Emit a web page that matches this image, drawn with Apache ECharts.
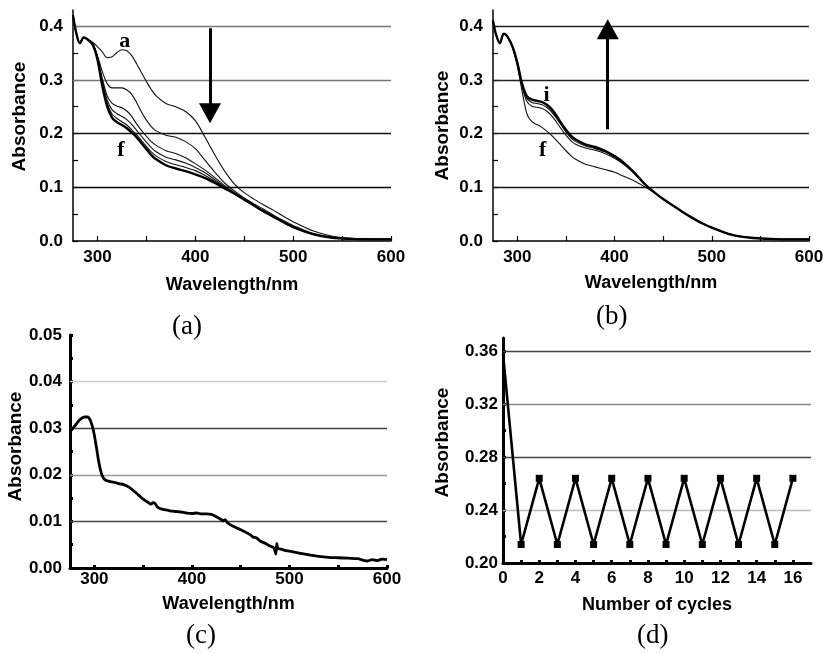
<!DOCTYPE html>
<html><head><meta charset="utf-8">
<script src="https://cdn.jsdelivr.net/npm/echarts@6/dist/echarts.min.js"></script>
<style>html,body{margin:0;padding:0;background:#fff}#c{width:827px;height:654px}</style>
</head><body><div id="c"></div>
<script>
// ---------- data ----------
const wlAB = [275,278,282,286,290,295,300,305,310,315,320,325,330,335,340,345,350,355,360,370,380,390,400,410,420,430,440,450,460,470,480,490,500,520,540,560,580,600];
const curveA_a = [0.42,0.39,0.368,0.379,0.375,0.370,0.362,0.352,0.341,0.343,0.351,0.356,0.354,0.345,0.330,0.313,0.297,0.282,0.270,0.256,0.250,0.241,0.224,0.193,0.160,0.130,0.106,0.090,0.078,0.067,0.057,0.046,0.036,0.019,0.009,0.005,0.004,0.003];
const curveA_b = [0.42,0.39,0.368,0.379,0.375,0.368,0.345,0.315,0.293,0.285,0.285,0.285,0.281,0.273,0.258,0.240,0.225,0.213,0.205,0.197,0.193,0.185,0.172,0.150,0.128,0.108,0.093,0.080,0.069,0.059,0.048,0.038,0.029,0.014,0.007,0.004,0.003,0.003];
const curveA_c = [0.42,0.39,0.368,0.379,0.375,0.368,0.342,0.302,0.270,0.256,0.251,0.248,0.242,0.232,0.218,0.206,0.195,0.185,0.178,0.168,0.163,0.155,0.144,0.132,0.118,0.103,0.090,0.078,0.067,0.056,0.046,0.036,0.027,0.013,0.006,0.004,0.003,0.003];
const curveA_d = [0.42,0.39,0.368,0.379,0.375,0.368,0.341,0.297,0.262,0.244,0.237,0.232,0.226,0.217,0.206,0.195,0.184,0.174,0.166,0.156,0.151,0.145,0.137,0.127,0.114,0.101,0.089,0.077,0.066,0.055,0.045,0.035,0.026,0.013,0.006,0.004,0.003,0.003];
const curveA_e = [0.42,0.39,0.368,0.379,0.375,0.368,0.340,0.292,0.256,0.236,0.228,0.222,0.216,0.207,0.198,0.187,0.176,0.166,0.158,0.148,0.142,0.137,0.131,0.122,0.111,0.100,0.088,0.077,0.066,0.055,0.045,0.035,0.026,0.013,0.006,0.004,0.003,0.003];
const curveA_f = [0.42,0.39,0.368,0.379,0.375,0.366,0.338,0.288,0.250,0.229,0.221,0.216,0.210,0.202,0.193,0.182,0.171,0.160,0.152,0.141,0.135,0.130,0.124,0.117,0.108,0.098,0.088,0.077,0.066,0.055,0.045,0.035,0.026,0.013,0.006,0.004,0.003,0.003];

const curveB_f = [0.41,0.385,0.368,0.386,0.38,0.362,0.326,0.278,0.236,0.222,0.217,0.212,0.205,0.197,0.188,0.178,0.168,0.159,0.152,0.143,0.138,0.133,0.128,0.120,0.112,0.102,0.091,0.078,0.066,0.054,0.043,0.033,0.025,0.012,0.006,0.004,0.003,0.003];
const curveB_g = [0.41,0.385,0.368,0.386,0.38,0.362,0.330,0.287,0.259,0.251,0.249,0.247,0.242,0.234,0.222,0.209,0.197,0.187,0.180,0.173,0.169,0.163,0.154,0.142,0.126,0.107,0.092,0.078,0.066,0.054,0.043,0.033,0.025,0.012,0.006,0.004,0.003,0.003];
const curveB_h = [0.41,0.385,0.368,0.386,0.38,0.362,0.331,0.290,0.265,0.258,0.256,0.254,0.249,0.241,0.229,0.216,0.203,0.192,0.185,0.177,0.172,0.166,0.156,0.144,0.127,0.108,0.092,0.078,0.066,0.054,0.043,0.033,0.025,0.012,0.006,0.004,0.003,0.003];
const curveB_i = [0.41,0.385,0.368,0.386,0.38,0.362,0.332,0.292,0.269,0.263,0.261,0.259,0.254,0.246,0.234,0.220,0.207,0.196,0.189,0.180,0.175,0.168,0.158,0.145,0.128,0.108,0.092,0.078,0.066,0.054,0.043,0.033,0.025,0.012,0.006,0.004,0.003,0.003];

const wlC = [275,280,285,290,293,296,299,302,305,308,311,315,320,325,330,335,340,345,350,355,358,360,362,365,370,375,380,385,390,395,400,405,410,415,420,425,430,432,434,436,440,445,450,455,460,463,466,470,475,480,484,486,487,488,490,495,500,510,520,530,540,550,560,570,575,580,585,590,595,600];
const absC = [0.0292,0.0305,0.0318,0.0324,0.0324,0.0316,0.0295,0.0260,0.0222,0.0198,0.0189,0.0186,0.0184,0.0181,0.0179,0.0174,0.0166,0.0157,0.0148,0.0141,0.0137,0.0140,0.0139,0.0130,0.0126,0.0124,0.0122,0.0121,0.0120,0.0118,0.0117,0.0118,0.0116,0.0116,0.0115,0.0110,0.0104,0.0101,0.0104,0.0098,0.0092,0.0087,0.0082,0.0077,0.0071,0.0066,0.0065,0.0058,0.0053,0.0047,0.0043,0.0030,0.0053,0.0042,0.0041,0.0038,0.0036,0.0032,0.0028,0.0025,0.0023,0.0022,0.0021,0.0020,0.0017,0.0015,0.0018,0.0016,0.0019,0.0018];

const cycles = [0,1,2,3,4,5,6,7,8,9,10,11,12,13,14,15,16];
const absD = [0.358,0.214,0.264,0.214,0.264,0.214,0.264,0.214,0.264,0.214,0.264,0.214,0.264,0.214,0.264,0.214,0.264];

const wlLabels = [300,400,500,600];
const wlTicks = [300,350,400,450,500,550,600];
const abLabels = [0,0.1,0.2,0.3,0.4];
const abTicks = [0,0.05,0.1,0.15,0.2,0.25,0.3,0.35,0.4];
const cLabels = [0,0.01,0.02,0.03,0.04,0.05];
const cTicks = [0,0.005,0.01,0.015,0.02,0.025,0.03,0.035,0.04,0.045,0.05];
const dLabels = [0.20,0.24,0.28,0.32,0.36];
const dTicks = [0.20,0.22,0.24,0.26,0.28,0.30,0.32,0.34,0.36];
const cycLabels = [0,2,4,6,8,10,12,14,16];
const cycTicks = cycles;

// ---------- helpers ----------
const SANS = 'Liberation Sans, Arial, sans-serif';
const SERIF = 'Liberation Serif, Times New Roman, serif';
const zip = (xs, ys) => xs.map((x, i) => [x, ys[i]]);

function xAx(idx, min, max, labels, ticks, name, gap, lw, dec, margin) {
  return {
    type: 'value', gridIndex: idx, min, max,
    name, nameLocation: 'middle', nameGap: gap,
    nameTextStyle: {fontFamily: SANS, fontWeight: 'bold', fontSize: 18, color: '#000'},
    axisLine: {onZero: false, lineStyle: {color: '#000', width: lw}},
    axisTick: {inside: true, length: lw > 2 ? 3 : 5, customValues: ticks, lineStyle: {color: '#000', width: lw > 2 ? 3 : 1.2}},
    axisLabel: {customValues: labels, margin: margin, fontFamily: SANS, fontWeight: 'bold', fontSize: 17, color: '#000',
      formatter: v => dec == null ? String(v) : Number(v).toFixed(dec)},
    splitLine: {show: false}
  };
}
function yAx(idx, min, max, labels, ticks, name, gap, lw, dec, margin, shift) {
  return {
    type: 'value', gridIndex: idx, min, max,
    name, nameLocation: 'middle', nameGap: gap,
    nameTextStyle: {fontFamily: SANS, fontWeight: 'bold', fontSize: 19, color: '#000', padding: [0, 0, 0, shift]},
    axisLine: {onZero: false, lineStyle: {color: '#000', width: lw}},
    axisTick: {inside: true, length: lw > 2 ? 3 : 5, customValues: ticks, lineStyle: {color: '#000', width: lw > 2 ? 3 : 1.2}},
    axisLabel: {customValues: labels, margin: margin, fontFamily: SANS, fontWeight: 'bold', fontSize: 17, color: '#000',
      formatter: v => Number(v).toFixed(dec)},
    splitLine: {show: false}
  };
}
function gridLines(xi, yi, lines) {
  return {
    type: 'line', xAxisIndex: xi, yAxisIndex: yi, data: [], silent: true, z: 1,
    markLine: {silent: true, symbol: 'none', z: 1, label: {show: false},
      data: lines.map(l => ({yAxis: l[0], lineStyle: {color: l[1], width: 1.3, type: 'solid'}}))}
  };
}
function curve(xi, yi, xs, ys, w, color) {
  return {type: 'line', xAxisIndex: xi, yAxisIndex: yi, data: zip(xs, ys), showSymbol: false, smooth: 0.3,
    lineStyle: {color: color || '#111', width: w}, z: 3, silent: true};
}
function letters(list) {
  return {symbol: 'rect', symbolSize: 1, itemStyle: {color: 'rgba(0,0,0,0)'},
    label: {show: true, position: 'inside', fontFamily: SERIF, fontWeight: 'bold', fontSize: 22, color: '#000',
      formatter: p => p.name},
    data: list.map(l => ({name: l[0], coord: l[1]}))};
}
function arrow(from, to) {
  return {silent: true, symbol: ['none', 'triangle'], symbolSize: [22, 20], z: 6, label: {show: false},
    lineStyle: {color: '#000', width: 3, type: 'solid'},
    data: [[{coord: from}, {coord: to}]]};
}

// ---------- option ----------
const option = {
  animation: false,
  backgroundColor: '#fff',
  grid: [
    {left: 73, top: 10, width: 318, height: 231},
    {left: 493, top: 10, width: 316, height: 231},
    {left: 70, top: 335, width: 317, height: 233},
    {left: 503, top: 338, width: 308, height: 225}
  ],
  xAxis: [
    xAx(0, 275, 600, wlLabels, wlTicks, 'Wavelength/nm', 35, 1.5, null, 8),
    xAx(1, 275, 600, wlLabels, wlTicks, 'Wavelength/nm', 33, 1.5, null, 8),
    xAx(2, 275, 600, wlLabels, wlTicks, 'Wavelength/nm', 27, 3, null, 3),
    xAx(3, 0, 17, cycLabels, cycTicks, 'Number of cycles', 33, 3, null, 7)
  ],
  yAxis: [
    yAx(0, 0, 0.43, abLabels, abTicks, 'Absorbance', 44, 1.5, 1, 10, 18),
    yAx(1, 0, 0.43, abLabels, abTicks, 'Absorbance', 41, 1.5, 1, 10, 0),
    yAx(2, 0, 0.05, cLabels, cTicks, 'Absorbance', 43, 3, 2, 8, 10),
    yAx(3, 0.2, 0.37, dLabels, dTicks, 'Absorbance', 51, 3, 2, 5, 16)
  ],
  series: [
    gridLines(0, 0, [[0.1, '#000'], [0.2, '#111'], [0.3, '#777'], [0.4, '#777']]),
    gridLines(1, 1, [[0.1, '#111'], [0.2, '#222'], [0.3, '#222'], [0.4, '#222']]),
    gridLines(2, 2, [[0.01, '#444'], [0.02, '#999'], [0.03, '#444'], [0.04, '#ccc']]),
    gridLines(3, 3, [[0.24, '#bbb'], [0.28, '#444'], [0.32, '#888'], [0.36, '#444']]),

    Object.assign(curve(0, 0, wlAB, curveA_a, 1.1), {markPoint: letters([['a', [328, 0.372], ], ['f', [324, 0.169]]]), markLine: arrow([415, 0.396], [415, 0.238])}),
    curve(0, 0, wlAB, curveA_b, 1.1),
    curve(0, 0, wlAB, curveA_c, 1.1),
    curve(0, 0, wlAB, curveA_d, 1.1),
    curve(0, 0, wlAB, curveA_e, 1.1),
    curve(0, 0, wlAB, curveA_f, 2.4, '#000'),

    Object.assign(curve(1, 1, wlAB, curveB_f, 1.1), {markPoint: letters([['i', [330, 0.272]], ['f', [326, 0.169]]]), markLine: arrow([393, 0.208], [393, 0.394])}),
    curve(1, 1, wlAB, curveB_g, 1.1),
    curve(1, 1, wlAB, curveB_h, 1.1),
    curve(1, 1, wlAB, curveB_i, 2.4, '#000'),

    curve(2, 2, wlC, absC, 2.8, '#000'),

    {type: 'line', xAxisIndex: 3, yAxisIndex: 3, data: zip(cycles, absD), smooth: false, z: 3, silent: true,
      symbol: (v, p) => p.dataIndex === 0 ? 'none' : 'rect', symbolSize: 7, showAllSymbol: true,
      lineStyle: {color: '#000', width: 2.6}, itemStyle: {color: '#000'}}
  ],
  graphic: [
    {type: 'text', left: 172, top: 313, style: {text: '(a)', font: '27px ' + SERIF, fill: '#000'}},
    {type: 'text', left: 596, top: 303, style: {text: '(b)', font: '27px ' + SERIF, fill: '#000'}},
    {type: 'text', left: 186, top: 622, style: {text: '(c)', font: '27px ' + SERIF, fill: '#000'}},
    {type: 'text', left: 637, top: 622, style: {text: '(d)', font: '27px ' + SERIF, fill: '#000'}}
  ]
};
echarts.init(document.getElementById('c'), null, {renderer: 'canvas'}).setOption(option);
</script></body></html>
